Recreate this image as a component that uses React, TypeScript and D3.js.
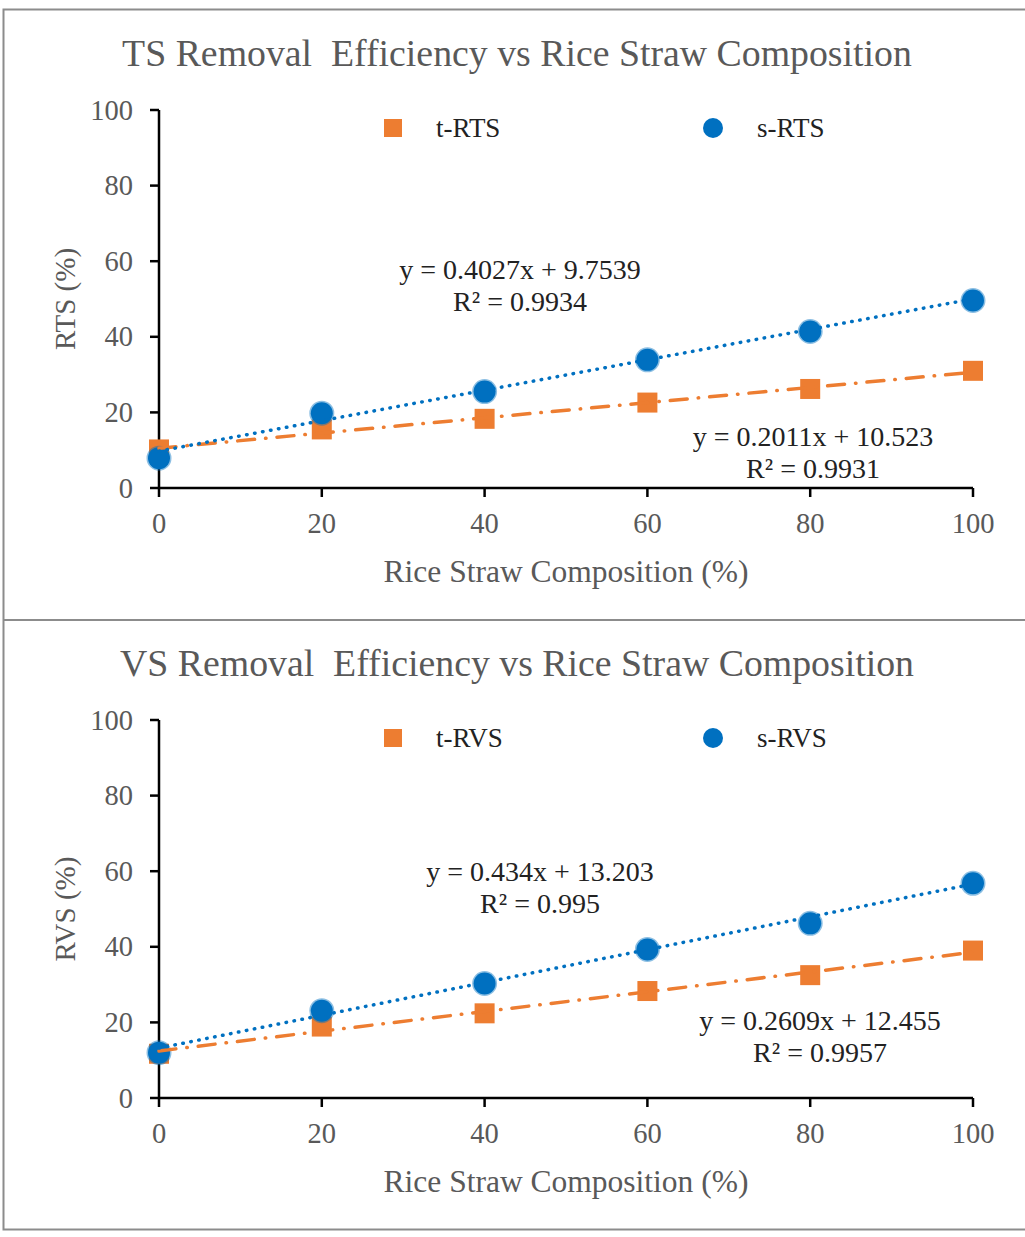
import React from "react";
import * as d3 from "d3";

// Rice straw composition (%) at which samples were taken
const COMPOSITION = [0, 20, 40, 60, 80, 100];

// Total solids removal efficiency (%)
const TS_T = [10.2, 15.5, 18.3, 22.6, 26.2, 31.0];
const TS_S = [7.9, 19.8, 25.5, 33.9, 41.4, 49.6];

// Volatile solids removal efficiency (%)
const VS_T = [11.7, 18.9, 22.4, 28.3, 32.5, 39.0];
const VS_S = [12.0, 23.1, 30.3, 39.3, 46.2, 56.8];

// Linear fits: [slope, intercept, R²]
const TS_T_FIT = [0.2011, 10.523, 0.9931];
const TS_S_FIT = [0.4027, 9.7539, 0.9934];
const VS_T_FIT = [0.2609, 12.455, 0.9957];
const VS_S_FIT = [0.434, 13.203, 0.995];

const Y_TICKS = [0, 20, 40, 60, 80, 100];
const X_TICKS = [0, 20, 40, 60, 80, 100];

const FONT = "'Liberation Serif', 'Times New Roman', serif";
const GREY = "#595959";
const ORANGE = "#ED7D31";
const BLUE = "#0070C0";

type PanelProps = {
  top: number;
  title: string;
  yLabel: string;
  tName: string;
  sName: string;
  tVals: number[];
  sVals: number[];
  tFit: number[];
  sFit: number[];
  sEqPos: [number, number];
  tEqPos: [number, number];
};

function Panel(p: PanelProps) {
  const x = d3.scaleLinear().domain([0, 100]).range([159, 973]);
  const y = d3.scaleLinear().domain([0, 100]).range([p.top + 378, p.top]);
  const [x0, x1] = x.range();
  const [yb, yt] = y.range();

  const fitLine = (fit: number[]) =>
    d3.line<number>()
      .x((d) => x(d))
      .y((d) => y(fit[0] * d + fit[1]))([0, 100]) as string;

  const eq = (fit: number[]) => `y = ${fit[0]}x + ${fit[1]}`;
  const r2 = (fit: number[]) => `R\u00B2 = ${fit[2]}`;

  const legendY = p.top + 18;

  return (
    <g fontFamily={FONT}>
      <text x={517} y={p.top - 44} textAnchor="middle" fontSize={37.8} fill={GREY} style={{ whiteSpace: "pre" }}>
        {p.title}
      </text>

      {/* legend */}
      <rect x={384} y={legendY - 9} width={18} height={18} fill={ORANGE} />
      <text x={436} y={legendY} dominantBaseline="central" fontSize={27} fill="#222">
        {p.tName}
      </text>
      <circle cx={713} cy={legendY} r={10} fill={BLUE} />
      <text x={757} y={legendY} dominantBaseline="central" fontSize={27} fill="#222">
        {p.sName}
      </text>

      {/* axes */}
      <line x1={x0} x2={x0} y1={yb} y2={yt} stroke="#000" strokeWidth={2.5} />
      <line x1={x0} x2={x1} y1={yb} y2={yb} stroke="#000" strokeWidth={2.5} />
      {Y_TICKS.map((t) => (
        <g key={"y" + t}>
          <line x1={x0 - 9} x2={x0} y1={y(t)} y2={y(t)} stroke="#000" strokeWidth={2.5} />
          <text x={133} y={y(t)} textAnchor="end" dominantBaseline="central" fontSize={28.5} fill={GREY}>
            {t}
          </text>
        </g>
      ))}
      {X_TICKS.map((t) => (
        <g key={"x" + t}>
          <line x1={x(t)} x2={x(t)} y1={yb} y2={yb + 9} stroke="#000" strokeWidth={2.5} />
          <text x={x(t)} y={yb + 45} textAnchor="middle" fontSize={28.5} fill={GREY}>
            {t}
          </text>
        </g>
      ))}
      <text x={566} y={yb + 94} textAnchor="middle" fontSize={31.5} fill={GREY}>
        Rice Straw Composition (%)
      </text>
      <text
        transform={`translate(65,${(yb + yt) / 2}) rotate(-90)`}
        textAnchor="middle"
        dominantBaseline="central"
        fontSize={29}
        fill={GREY}
      >
        {p.yLabel}
      </text>

      {/* markers */}
      {p.tVals.map((v, i) => (
        <rect key={"t" + i} x={x(COMPOSITION[i]) - 10} y={y(v) - 10} width={20} height={20} fill={ORANGE} />
      ))}
      {p.sVals.map((v, i) => (
        <circle
          key={"s" + i}
          cx={x(COMPOSITION[i])}
          cy={y(v)}
          r={11}
          fill={BLUE}
          stroke="rgba(0,112,192,0.45)"
          strokeWidth={3}
        />
      ))}

      {/* trend lines */}
      <path d={fitLine(p.tFit)} fill="none" stroke={ORANGE} strokeWidth={3.5} strokeLinecap="round" strokeDasharray="17 11 0.5 11" />
      <path d={fitLine(p.sFit)} fill="none" stroke={BLUE} strokeWidth={3.5} strokeLinecap="round" strokeDasharray="0.5 7.6" />

      {/* fit equations */}
      <g fontSize={28} fill="#222" textAnchor="middle">
        <text x={p.sEqPos[0]} y={p.sEqPos[1]}>{eq(p.sFit)}</text>
        <text x={p.sEqPos[0]} y={p.sEqPos[1] + 32}>{r2(p.sFit)}</text>
        <text x={p.tEqPos[0]} y={p.tEqPos[1]}>{eq(p.tFit)}</text>
        <text x={p.tEqPos[0]} y={p.tEqPos[1] + 32}>{r2(p.tFit)}</text>
      </g>
    </g>
  );
}

export default function App() {
  return (
    <div style={{ position: "absolute", left: 0, top: 0 }}>
      <svg width={1025} height={1237} style={{ display: "block", background: "#fff" }}>
        <rect x={3.5} y={9.5} width={1030} height={1220} fill="none" stroke="#8c8c8c" strokeWidth={2} />
        <line x1={3.5} x2={1025} y1={620} y2={620} stroke="#8c8c8c" strokeWidth={2} />
        <Panel
          top={110}
          title={"TS Removal  Efficiency vs Rice Straw Composition"}
          yLabel="RTS (%)"
          tName="t-RTS"
          sName="s-RTS"
          tVals={TS_T}
          sVals={TS_S}
          tFit={TS_T_FIT}
          sFit={TS_S_FIT}
          sEqPos={[520, 279]}
          tEqPos={[813, 446]}
        />
        <Panel
          top={720}
          title={"VS Removal  Efficiency vs Rice Straw Composition"}
          yLabel="RVS (%)"
          tName="t-RVS"
          sName="s-RVS"
          tVals={VS_T}
          sVals={VS_S}
          tFit={VS_T_FIT}
          sFit={VS_S_FIT}
          sEqPos={[540, 881]}
          tEqPos={[820, 1030]}
        />
      </svg>
    </div>
  );
}
